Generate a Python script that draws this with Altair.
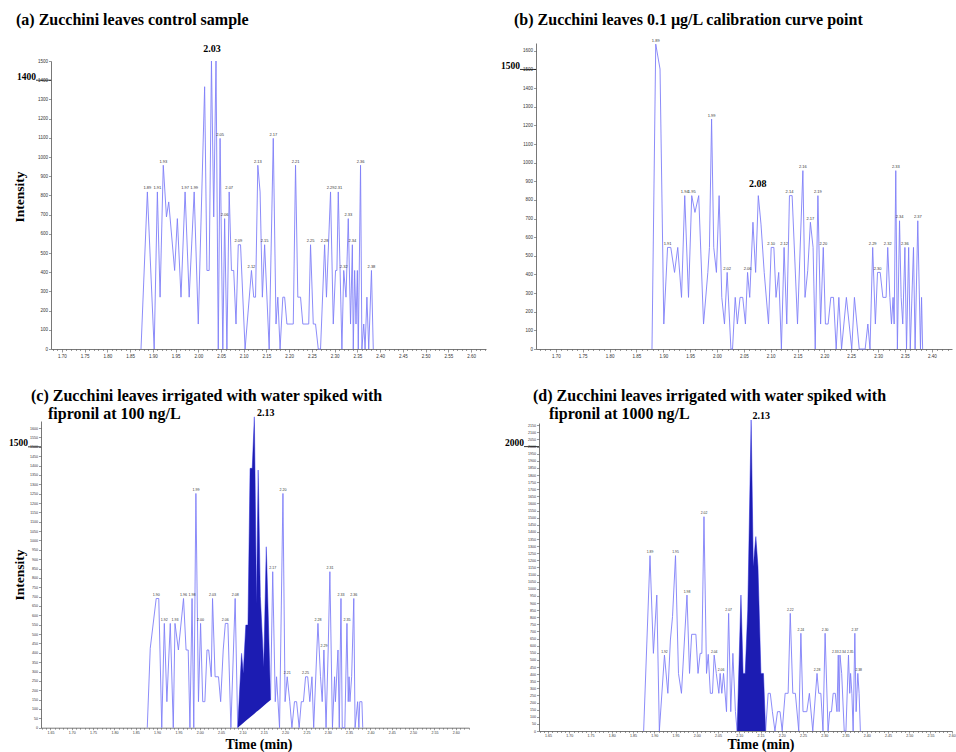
import altair as alt
import pandas as pd

# ---------------- data ----------------
# (a) control sample
a_time = [1.874, 1.888, 1.903, 1.910, 1.916, 1.923, 1.930, 1.935, 1.948, 1.954,
          1.962, 1.971, 1.980, 1.991, 2.000, 2.014, 2.019, 2.024, 2.029, 2.034,
          2.039, 2.044, 2.048, 2.054, 2.058, 2.063, 2.068, 2.073, 2.078, 2.083,
          2.088, 2.093, 2.103, 2.117, 2.122, 2.126, 2.131, 2.136, 2.141, 2.146,
          2.156, 2.165, 2.171, 2.175, 2.180, 2.186, 2.190, 2.195, 2.209, 2.214,
          2.219, 2.225, 2.230, 2.243, 2.247, 2.253, 2.258, 2.264, 2.269, 2.278,
          2.282, 2.291, 2.297, 2.302, 2.305, 2.308, 2.316, 2.320, 2.325, 2.330,
          2.335, 2.339, 2.341, 2.344, 2.347, 2.350, 2.352, 2.357, 2.360, 2.364,
          2.367, 2.371, 2.375, 2.381, 2.385]
a_int = [0, 818, 0, 818, 270, 957, 688, 766, 409, 679,
         270, 818, 270, 818, 130, 1366, 409, 409, 1500, 688,
         1500, 0, 1097, 0, 679, 0, 818, 409, 409, 130,
         543, 543, 0, 409, 270, 270, 957, 818, 270, 543,
         0, 1097, 130, 270, 0, 270, 270, 130, 130, 957,
         270, 270, 130, 130, 543, 130, 130, 0, 0, 543,
         270, 818, 130, 409, 409, 818, 0, 409, 270, 679,
         130, 543, 0, 409, 130, 409, 0, 957, 0, 130,
         0, 270, 0, 409, 0]
a_lab_text = ["1.89", "1.91", "1.93", "1.97", "1.99", "2.05", "2.06", "2.07", "2.09", "2.12", "2.13", "2.15",
              "2.17", "2.21", "2.25", "2.28", "2.29", "2.31", "2.32", "2.33", "2.34", "2.36", "2.38"]
a_lab_time = [1.888, 1.910, 1.923, 1.971, 1.991, 2.048, 2.058, 2.068, 2.088, 2.117, 2.131, 2.146,
              2.165, 2.214, 2.247, 2.278, 2.291, 2.308, 2.320, 2.330, 2.339, 2.357, 2.381]
a_lab_int = [818, 818, 957, 818, 818, 1097, 679, 818, 543, 409, 957, 543,
             1097, 957, 543, 543, 818, 818, 409, 679, 543, 957, 409]

# (b) 0.1 ug/L calibration point
b_time = [1.879, 1.886, 1.894, 1.901, 1.908, 1.914, 1.921, 1.927, 1.934, 1.940,
          1.947, 1.953, 1.959, 1.966, 1.975, 1.983, 1.986, 1.990, 1.994, 1.999,
          2.004, 2.009, 2.014, 2.019, 2.026, 2.029, 2.034, 2.038, 2.043, 2.048,
          2.053, 2.057, 2.061, 2.067, 2.072, 2.077, 2.082, 2.088, 2.096, 2.101,
          2.106, 2.110, 2.115, 2.120, 2.125, 2.130, 2.135, 2.140, 2.150, 2.160,
          2.164, 2.169, 2.174, 2.179, 2.183, 2.188, 2.193, 2.198, 2.202, 2.207,
          2.212, 2.217, 2.222, 2.227, 2.232, 2.241, 2.251, 2.256, 2.265, 2.276,
          2.281, 2.285, 2.290, 2.295, 2.299, 2.304, 2.309, 2.315, 2.318, 2.322,
          2.325, 2.328, 2.330, 2.333, 2.336, 2.340, 2.343, 2.346, 2.350, 2.353,
          2.357, 2.360, 2.366, 2.369, 2.374, 2.379, 2.381, 2.383]
b_int = [0, 1636, 1502, 134, 545, 545, 411, 545, 277, 823,
         277, 823, 733, 823, 134, 411, 545, 1234, 545, 411,
         823, 277, 134, 411, 0, 0, 277, 134, 277, 277,
         134, 411, 277, 680, 411, 823, 670, 411, 134, 545,
         545, 277, 411, 0, 545, 134, 823, 823, 134, 957,
         277, 420, 680, 545, 0, 823, 134, 545, 134, 134,
         277, 277, 0, 277, 0, 277, 0, 277, 0, 0,
         134, 0, 545, 134, 411, 411, 277, 277, 545, 277,
         134, 277, 134, 957, 0, 688, 277, 134, 545, 0,
         545, 0, 545, 0, 688, 0, 277, 0]
b_lab_text = ["1.89", "1.91", "1.94", "1.95", "1.99", "2.02", "2.06", "2.10", "2.12", "2.14", "2.16",
              "2.17", "2.19", "2.20", "2.29", "2.30", "2.32", "2.33", "2.34", "2.36", "2.37"]
b_lab_time = [1.886, 1.908, 1.940, 1.953, 1.990, 2.019, 2.057, 2.101, 2.125, 2.135, 2.160,
              2.174, 2.188, 2.198, 2.290, 2.299, 2.318, 2.333, 2.340, 2.350, 2.374]
b_lab_int = [1636, 545, 823, 823, 1234, 411, 411, 545, 545, 823, 957,
             680, 823, 545, 545, 411, 545, 957, 688, 545, 688]

# (c) irrigated, 100 ng/L
c_time = [1.877, 1.884, 1.898, 1.904, 1.911, 1.917, 1.923, 1.931, 1.938, 1.942,
          1.950, 1.962, 1.968, 1.973, 1.977, 1.982, 1.986, 1.991, 1.997, 2.002,
          2.007, 2.012, 2.017, 2.021, 2.027, 2.030, 2.036, 2.044, 2.049, 2.055,
          2.060, 2.066, 2.073, 2.083, 2.089, 2.098, 2.102, 2.108, 2.113, 2.118,
          2.123, 2.128, 2.133, 2.137, 2.142, 2.150, 2.156, 2.166, 2.171, 2.177,
          2.180, 2.187, 2.195, 2.200, 2.205, 2.211, 2.216, 2.222, 2.227, 2.233,
          2.238, 2.243, 2.248, 2.253, 2.258, 2.263, 2.267, 2.277, 2.283, 2.287,
          2.291, 2.296, 2.301, 2.305, 2.311, 2.316, 2.318, 2.324, 2.327, 2.331,
          2.334, 2.340, 2.345, 2.348, 2.350, 2.352, 2.356, 2.361, 2.364, 2.370,
          2.373, 2.375, 2.380, 2.382]
c_int = [0, 424, 690, 690, 0, 557, 139, 557, 0, 557,
         415, 690, 415, 415, 0, 690, 0, 1251, 139, 557,
         139, 139, 415, 415, 272, 690, 272, 272, 139, 415,
         557, 557, 0, 690, 0, 397, 290, 548, 548, 1385,
         1385, 1660, 664, 1376, 700, 326, 966, 148, 833, 139,
         272, 0, 1251, 139, 272, 139, 0, 139, 139, 0,
         139, 139, 272, 272, 139, 272, 0, 557, 272, 139,
         415, 0, 415, 833, 0, 272, 139, 415, 0, 690,
         0, 0, 557, 139, 272, 139, 272, 690, 0, 139,
         0, 139, 139, 0]
c_lab_text = ["1.90", "1.92", "1.93", "1.96", "1.98", "1.99", "2.00", "2.03", "2.06", "2.08",
              "2.17", "2.20", "2.21", "2.25", "2.28", "2.29", "2.31", "2.33", "2.35", "2.36"]
c_lab_time = [1.898, 1.917, 1.942, 1.962, 1.982, 1.991, 2.002, 2.030, 2.060, 2.083,
              2.171, 2.195, 2.205, 2.248, 2.277, 2.291, 2.305, 2.331, 2.345, 2.361]
c_lab_int = [690, 557, 557, 690, 690, 1251, 557, 690, 557, 690,
             833, 1251, 272, 272, 557, 415, 833, 690, 557, 690]
c_peak_window = [2.089, 2.166]      # integrated peak start / end (min)
c_peak_baseline = [0, 148]          # integration baseline at start / end

# (d) irrigated, 1000 ng/L
d_time = [1.875, 1.890, 1.898, 1.906, 1.912, 1.924, 1.932, 1.938, 1.943, 1.950,
          1.957, 1.964, 1.977, 1.983, 1.988, 1.998, 2.003, 2.008, 2.012, 2.017,
          2.023, 2.027, 2.032, 2.037, 2.041, 2.046, 2.052, 2.055, 2.059, 2.063,
          2.070, 2.075, 2.080, 2.085, 2.091, 2.095, 2.104, 2.109, 2.114, 2.120,
          2.128, 2.133, 2.139, 2.144, 2.151, 2.157, 2.162, 2.168, 2.173, 2.178,
          2.184, 2.190, 2.196, 2.201, 2.208, 2.215, 2.220, 2.226, 2.232, 2.240,
          2.245, 2.250, 2.259, 2.265, 2.273, 2.283, 2.287, 2.292, 2.297, 2.302,
          2.309, 2.313, 2.317, 2.321, 2.326, 2.330, 2.333, 2.335, 2.337, 2.341,
          2.347, 2.351, 2.357, 2.360, 2.362, 2.365, 2.368, 2.372, 2.375, 2.379,
          2.382, 2.385]
d_int = [0, 1233, 546, 956, 0, 534, 265, 640, 804, 1233,
         405, 265, 956, 405, 680, 680, 405, 546, 546, 1507,
         405, 539, 265, 265, 534, 405, 265, 405, 265, 405,
         136, 827, 136, 546, 136, 0, 956, 405, 405, 851,
         2187, 1156, 1367, 1156, 405, 405, 0, 265, 265, 136,
         0, 136, 136, 0, 265, 265, 827, 265, 265, 0,
         687, 136, 136, 265, 0, 405, 265, 265, 0, 687,
         0, 136, 136, 265, 265, 136, 534, 136, 534, 405,
         0, 0, 534, 265, 405, 265, 0, 687, 136, 405,
         265, 0]
d_lab_text = ["1.89", "1.92", "1.95", "1.98", "2.02", "2.04", "2.06", "2.07", "2.22", "2.24",
              "2.28", "2.30", "2.33", "2.34", "2.35", "2.37", "2.38"]
d_lab_time = [1.890, 1.924, 1.950, 1.977, 2.017, 2.041, 2.057, 2.075, 2.220, 2.245,
              2.283, 2.302, 2.326, 2.343, 2.361, 2.372, 2.381]
d_lab_int = [1233, 534, 1233, 956, 1507, 534, 405, 827, 827, 687,
             405, 687, 534, 534, 534, 687, 405]
d_peak_window = [2.095, 2.162]
d_peak_baseline = [0, 0]

# bold annotations (peak retention time, and a marked intensity level per panel)
note_text = ["2.03", "2.08", "2.13", "2.13"]
note_time = [2.030, 2.076, 2.134, 2.131]
note_int = [1547, 871, 1664, 2192]
level_vals = [1400, 1500, 1500, 2000]

titles = [["(a) Zucchini leaves control sample"],
          ["(b) Zucchini leaves 0.1 \u00b5g/L calibration curve point"],
          ["(c) Zucchini leaves irrigated with water spiked with", "fipronil at 100 ng/L"],
          ["(d) Zucchini leaves irrigated with water spiked with", "fipronil at 1000 ng/L"]]

# ---------------- styling ----------------
LINE = "#7f7ff8"
FILL = "#1c1cb2"
SERIF = "Liberation Serif"
SANS = "Liberation Sans"
AXC = "#555555"
MAJOR = "abs(datum.value*20 - round(datum.value*20)) < 0.001"

one = pd.DataFrame({"k": [0]})


def ticks(start, stop, step, nd=2):
    n = int(round((stop - start) / step))
    return [round(start + i * step, nd) for i in range(n + 1)]


def txt(text, x, y, size, align="left", baseline="alphabetic", angle=None, weight="bold", font=SERIF):
    kw = dict(font=font, fontSize=size, fontWeight=weight, align=align, baseline=baseline, color="black")
    if angle is not None:
        kw["angle"] = angle
    return alt.Chart(one).mark_text(**kw).encode(x=alt.value(x), y=alt.value(y), text=alt.value(text))


def panel(times, ints, lt, ltime, lint, *, W, H, xdom, xrng, ydom, yrng, xt, xoff, yt, yoff, fs,
          tick_major=3, pad=1, lab_fs=4, fill=None, note=None, level=None, extra=()):
    df = pd.DataFrame({"t": times, "v": ints})
    xaxis = alt.Axis(values=xt, labelExpr=f"{MAJOR} ? format(datum.value, '.2f') : ''",
                     labelFont=SANS, labelFontSize=fs, labelColor="#333", labelPadding=pad,
                     labelOverlap=False, labelFlush=False, labelBound=False,
                     tickColor=AXC, tickWidth=0.6,
                     tickSize={"condition": {"test": MAJOR, "value": tick_major}, "value": 1.5},
                     domainColor=AXC, domainWidth=0.8, grid=False, title=None, offset=xoff)
    yaxis = alt.Axis(values=yt, format="d", labelFont=SANS, labelFontSize=fs, labelColor="#333",
                     labelPadding=1, labelOverlap=False, labelFlush=False, labelBound=False,
                     tickColor=AXC, tickWidth=0.6, tickSize=2.5,
                     domainColor=AXC, domainWidth=0.8, grid=False, title=None, offset=yoff)
    X = alt.X("t:Q", scale=alt.Scale(domain=xdom, range=xrng, nice=False, zero=False), axis=xaxis)
    Y = alt.Y("v:Q", scale=alt.Scale(domain=ydom, range=yrng, nice=False, zero=False), axis=yaxis)

    layers = [alt.Chart(df).mark_line(color=LINE, strokeWidth=0.9).encode(x=X, y=Y)]
    if fill is not None:
        (t0, t1), (b0, b1) = fill
        layers.append(
            alt.Chart(df)
            .transform_filter(f"datum.t >= {t0 - 1e-6} && datum.t <= {t1 + 1e-6}")
            .transform_calculate(base=f"{b0} + ({b1} - {b0}) * (datum.t - {t0}) / ({t1} - {t0})")
            .mark_area(color=FILL, opacity=1)
            .encode(x=X, y=Y, y2=alt.Y2("base:Q"))
        )
    lab = pd.DataFrame({"t": ltime, "v": lint, "s": lt})
    layers.append(alt.Chart(lab).mark_text(font=SANS, fontSize=lab_fs, color="#333", baseline="bottom", dy=-1.5)
                  .encode(x=X, y=Y, text="s:N"))
    if note is not None:
        s, t, v, align = note
        nd = pd.DataFrame({"t": [t], "v": [v], "s": [s]})
        layers.append(alt.Chart(nd).mark_text(font=SERIF, fontWeight="bold", fontSize=10, align=align,
                                              baseline="alphabetic", color="black")
                      .encode(x=X, y=Y, text="s:N"))
    if level is not None:
        val, xt_px, xa_px = level
        ld = pd.DataFrame({"v": [val], "s": [str(val)]})
        layers.append(alt.Chart(ld).mark_text(font=SERIF, fontWeight="bold", fontSize=9.5, align="right",
                                              baseline="alphabetic", color="black", dy=-0.5)
                      .encode(x=alt.value(xt_px), y=Y, text="s:N"))
        layers.append(alt.Chart(ld).mark_rule(color="black", strokeWidth=0.8)
                      .encode(x=alt.value(xt_px), x2=alt.value(xa_px), y=Y))
    layers.extend(extra)
    return alt.layer(*layers).properties(width=W, height=H)


# ---- panel (a) ----
pa = panel(a_time, a_int, a_lab_text, a_lab_time, a_lab_int,
           W=445, H=306, xdom=[1.676, 2.633], xrng=[10, 445], ydom=[0, 1500], yrng=[306, 18],
           xt=ticks(1.68, 2.63, 0.01), xoff=0, yt=ticks(0, 1500, 100, 0), yoff=-10, fs=4.5,
           note=(note_text[0], note_time[0], note_int[0], "center"),
           level=(level_vals[0], -5, 10),
           extra=[
               alt.Chart(one).mark_rule(color="white", strokeWidth=1)
               .encode(x=alt.value(-40), x2=alt.value(-39), y=alt.value(-42.5)),
               txt(titles[0][0], -25, -18, 16),
               txt("Intensity", -21, 154, 13.5, align="center", baseline="middle", angle=270),
           ])

# ---- panel (b) ----
pb = panel(b_time, b_int, b_lab_text, b_lab_time, b_lab_int,
           W=416, H=306, xdom=[1.663, 2.4377], xrng=[0, 416], ydom=[0, 1642], yrng=[306, 0],
           xt=ticks(1.67, 2.43, 0.01), xoff=0, yt=ticks(0, 1600, 100, 0), yoff=0, fs=4.5,
           note=(note_text[1], note_time[1], note_int[1], "center"),
           level=(level_vals[1], -16, 0),
           extra=[txt(titles[1][0], -22, -18, 16)])

# ---- panel (c) ----
pc = panel(c_time, c_int, c_lab_text, c_lab_time, c_lab_int,
           W=445, H=315, xdom=[1.628, 2.631], xrng=[0, 428], ydom=[0, 1638], yrng=[311.7, 5],
           xt=ticks(1.63, 2.63, 0.01), xoff=-3.3, yt=ticks(0, 1600, 50, 0), yoff=0, fs=3.6,
           tick_major=2, pad=0.5, lab_fs=3.6,
           fill=(c_peak_window, c_peak_baseline),
           note=(note_text[2], note_time[2], note_int[2], "left"),
           level=(level_vals[2], -13, 0),
           extra=[
               txt(titles[2][0], -10, -15.3, 16),
               txt(titles[2][1], 7, 3.3, 16),
               txt("Intensity", -21, 159, 13.5, align="center", baseline="middle", angle=270),
               txt("Time (min)", 218, 333, 14, align="center"),
           ])

# ---- panel (d) ----
pd_ = panel(d_time, d_int, d_lab_text, d_lab_time, d_lab_int,
            W=416, H=315, xdom=[1.6288, 2.6006], xrng=[3, 416], ydom=[0, 2166], yrng=[315, 7],
            xt=ticks(1.63, 2.60, 0.01), xoff=0, yt=ticks(0, 2150, 50, 0), yoff=-3, fs=3.6,
            tick_major=2, pad=0.5, lab_fs=3.4,
            fill=(d_peak_window, d_peak_baseline),
            note=(note_text[3], note_time[3], note_int[3], "left"),
            level=(level_vals[3], -12, 3),
            extra=[
                txt(titles[3][0], -3, -15.3, 16),
                txt(titles[3][1], 13, 3.3, 16),
                txt("Time (min)", 225, 333, 14, align="center"),
            ])

chart = (
    alt.concat(pa, pb, pc, pd_, columns=2, spacing={"row": 67, "column": 50},
               bounds="flush", align="each")
    .properties(padding=0)
    .configure_view(stroke=None)
)

chart.save("out.html", embed_options={"renderer": "svg", "actions": False})
